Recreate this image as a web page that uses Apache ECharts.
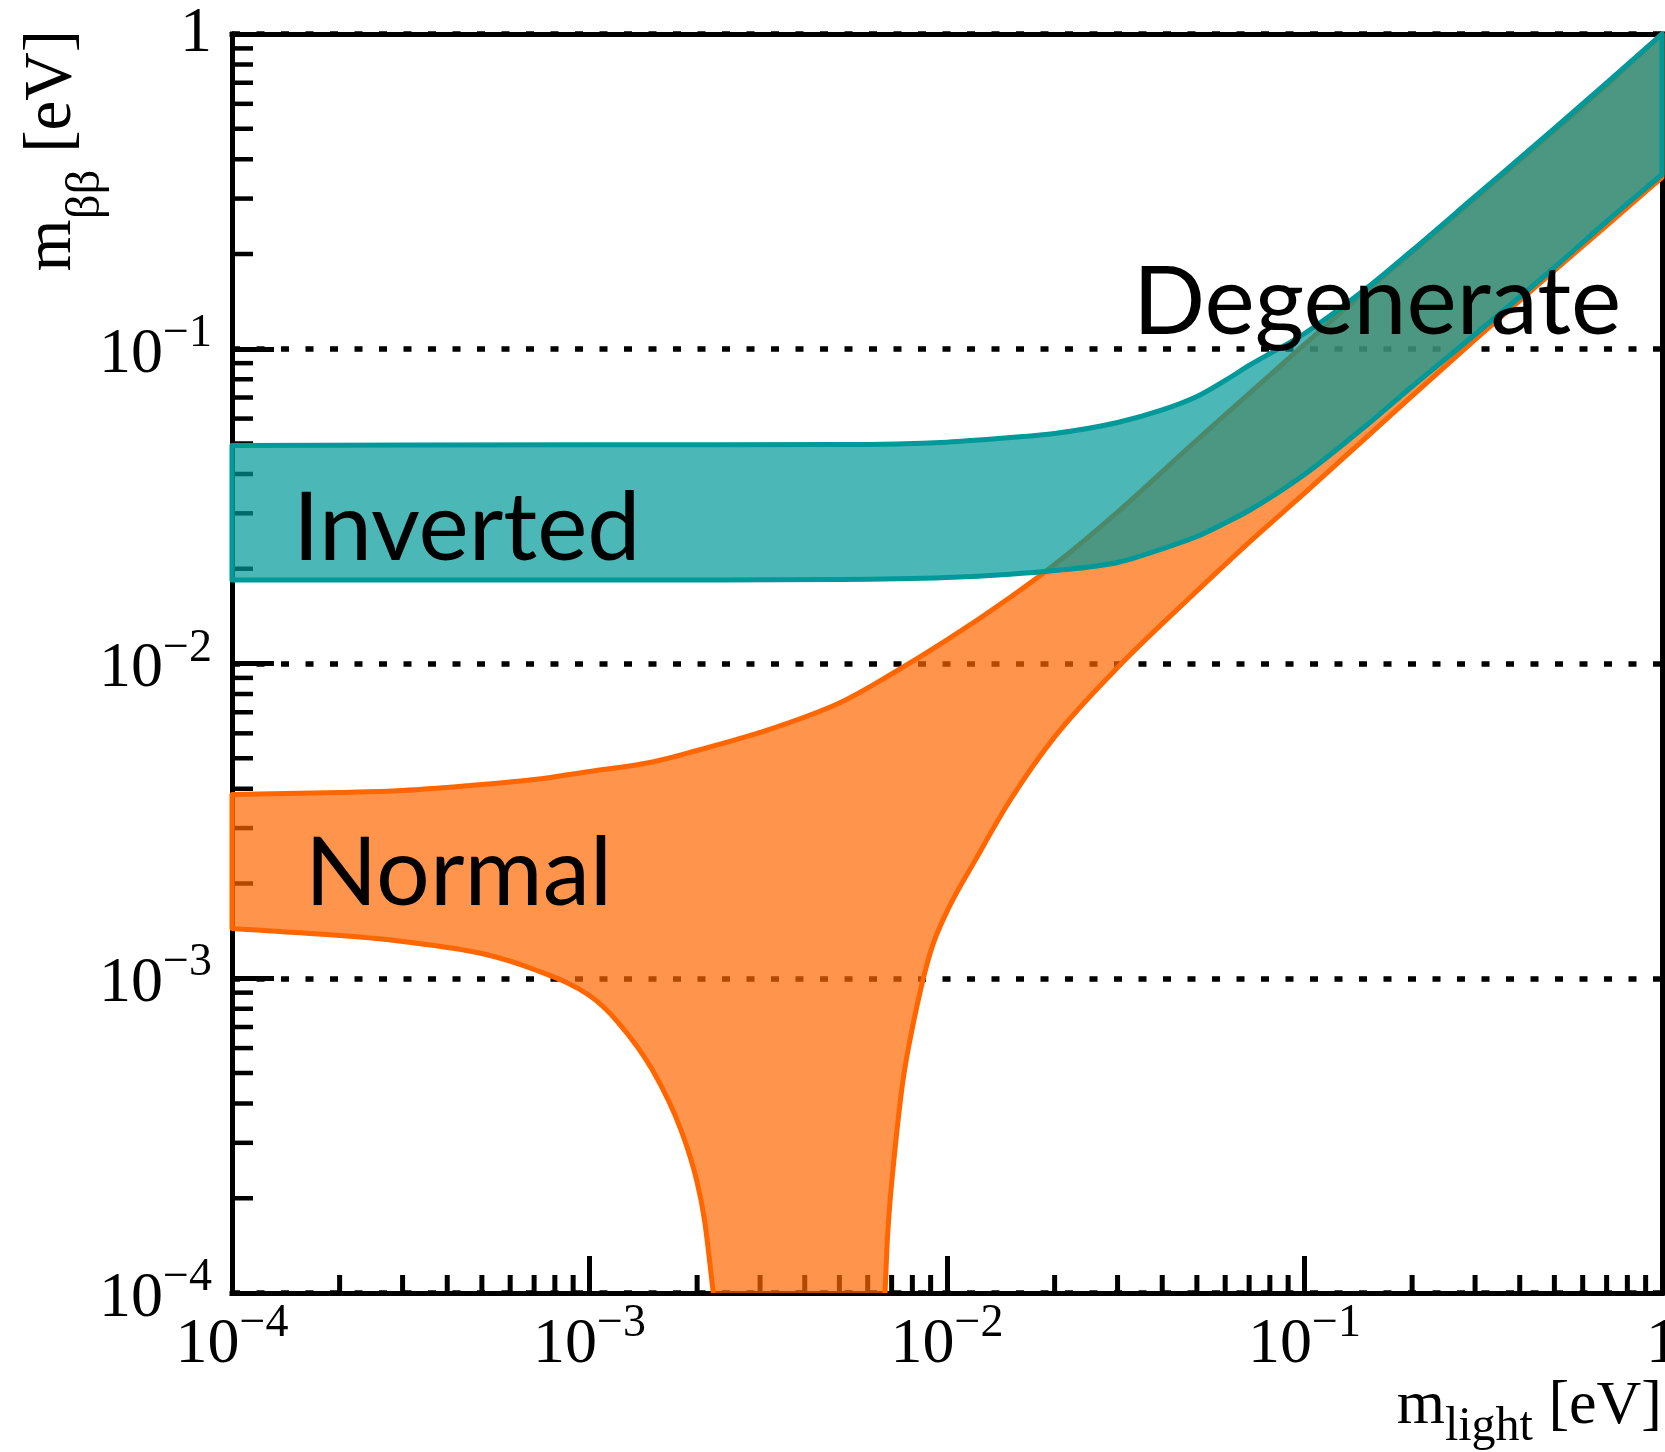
<!DOCTYPE html>
<html>
<head>
<meta charset="utf-8">
<script src="https://cdn.jsdelivr.net/npm/echarts@6/dist/echarts.min.js"></script>
<style>
html,body{margin:0;padding:0;background:#ffffff;}
#chart{width:1665px;height:1452px;}
</style>
</head>
<body>
<div id="chart"></div>
<script>
// ---- Inverted hierarchy band (teal) ----
const ihMass  = [1e-4, 1e-3, 5e-3, 1e-2, 1.5e-2, 2e-2, 3e-2, 4e-2, 5e-2, 6e-2, 7e-2, 0.1, 0.15, 0.2, 0.3, 0.5, 0.7, 1];
const ihUpper = [0.0493, 0.0495, 0.0496, 0.0505, 0.0522, 0.0538, 0.0583, 0.0639, 0.0705, 0.0793, 0.0885, 0.1118, 0.1565, 0.2052, 0.3046, 0.501, 0.699, 1.0];
const ihLower = [0.01842, 0.01842, 0.01849, 0.01876, 0.01921, 0.01974, 0.02094, 0.02314, 0.02532, 0.02795, 0.03063, 0.03986, 0.05745, 0.07589, 0.1110, 0.1812, 0.2537, 0.3577];

// ---- Normal hierarchy band (orange) ----
const nhMass  = [1e-4, 2e-4, 3e-4, 5e-4, 7e-4, 1e-3, 1.5e-3, 2e-3, 3e-3, 5e-3, 7e-3, 1e-2, 1.5e-2, 2e-2, 3e-2, 5e-2, 7e-2, 0.1, 0.15, 0.2, 0.3, 0.5, 0.7, 1];
const nhUpper = [0.003836, 0.003892, 0.00395, 0.004127, 0.004279, 0.004538, 0.004864, 0.005292, 0.006037, 0.00749, 0.009261, 0.01188, 0.01621, 0.02063, 0.03029, 0.0513, 0.07207, 0.1032, 0.1543, 0.2029, 0.3002, 0.4936, 0.6887, 1.0];
// lower boundary, left branch (falls to the bottom of the plot)
const nhLeftMass  = [1e-4, 2e-4, 3e-4, 5e-4, 7e-4, 1e-3, 1.2e-3, 1.5e-3, 1.8e-3, 2e-3, 2.1e-3, 2.22e-3];
const nhLeftLower = [1.439e-3, 1.367e-3, 1.309e-3, 1.198e-3, 1.066e-3, 8.81e-4, 7.26e-4, 5.11e-4, 3.31e-4, 2.25e-4, 1.69e-4, 1e-4];
// lower boundary, right branch (rises from the bottom of the plot)
const nhRightMass  = [6.71e-3, 6.8e-3, 6.9e-3, 7e-3, 7.5e-3, 8e-3, 9e-3, 1e-2, 1.2e-2, 1.5e-2, 2e-2, 3e-2, 5e-2, 7e-2, 0.1, 0.15, 0.2, 0.3, 0.5, 0.7, 1];
const nhRightLower = [1e-4, 1.426e-4, 1.842e-4, 2.228e-4, 4.575e-4, 6.948e-4, 1.216e-3, 1.63e-3, 2.373e-3, 3.671e-3, 5.845e-3, 9.712e-3, 0.01699, 0.02427, 0.03478, 0.0527, 0.07084, 0.1069, 0.177, 0.2463, 0.35];

// ---- axes ----
const axisMin = 1e-4, axisMax = 1;
const decades = [1e-4, 1e-3, 1e-2, 1e-1];
const minorMultipliers = [2, 3, 4, 5, 6, 7, 8, 9];
const bandLabels = ['Inverted', 'Normal', 'Degenerate'];

const minorTicks = [];
decades.forEach(d => minorMultipliers.forEach(k => minorTicks.push(+(k * d).toPrecision(3))));

const SERIF = 'Liberation Serif';
const SANS = 'Lato';

function tickLabel(v, oneStyle) {
  const e = Math.round(Math.log10(v));
  if (e === 0) return '{' + oneStyle + '|1}';
  return '{b|10}{s|\u2212' + (-e) + '}';
}

// smooth (monotone cubic) path segments through pixel points ordered by x
function monoSegments(p) {
  const n = p.length, d = [], m = [];
  for (let i = 0; i < n - 1; i++) d.push((p[i + 1][1] - p[i][1]) / (p[i + 1][0] - p[i][0]));
  m[0] = d[0]; m[n - 1] = d[n - 2];
  for (let i = 1; i < n - 1; i++) m[i] = (d[i - 1] * d[i] <= 0) ? 0 : (d[i - 1] + d[i]) / 2;
  for (let i = 0; i < n - 1; i++) {
    if (d[i] === 0) { m[i] = 0; m[i + 1] = 0; continue; }
    const a = m[i] / d[i], b = m[i + 1] / d[i], s = a * a + b * b;
    if (s > 9) { const t = 3 / Math.sqrt(s); m[i] = t * a * d[i]; m[i + 1] = t * b * d[i]; }
  }
  const segs = [];
  for (let i = 0; i < n - 1; i++) {
    const h = p[i + 1][0] - p[i][0];
    segs.push([p[i], [p[i][0] + h / 3, p[i][1] + m[i] * h / 3], [p[i + 1][0] - h / 3, p[i + 1][1] - m[i + 1] * h / 3], p[i + 1]]);
  }
  return segs;
}
function segPath(segs, reverse) {
  const list = reverse ? segs.slice().reverse().map(g => [g[3], g[2], g[1], g[0]]) : segs;
  let s = '';
  list.forEach(g => { s += ' C' + g[1][0].toFixed(2) + ',' + g[1][1].toFixed(2) + ' ' + g[2][0].toFixed(2) + ',' + g[2][1].toFixed(2) + ' ' + g[3][0].toFixed(2) + ',' + g[3][1].toFixed(2); });
  return {start: list[0][0][0].toFixed(2) + ',' + list[0][0][1].toFixed(2), d: s};
}
function curve(api, xs, ys) {
  return monoSegments(xs.map((x, i) => api.coord([x, ys[i]])));
}

const chart = echarts.init(document.getElementById('chart'), null, {renderer: 'canvas'});

const frameLine = {color: '#000', width: 5, cap: 'square'};

const option = {
  backgroundColor: '#ffffff',
  animation: false,
  grid: {left: 232, right: 3, top: 34, bottom: 159, containLabel: false, outerBoundsMode: 'none'},
  xAxis: [{
    type: 'log', logBase: 10, min: axisMin, max: axisMax, position: 'bottom',
    axisLine: {show: true, lineStyle: frameLine},
    axisTick: {show: true, inside: true, length: 37, lineStyle: {color: '#000', width: 5}},
    minorTick: {show: false},
    splitLine: {show: false},
    axisLabel: {
      show: true, margin: 8, showMinLabel: true, showMaxLabel: true,
      formatter: v => tickLabel(v, 'b'),
      rich: {
        b: {fontFamily: SERIF, fontSize: 64, color: '#000', lineHeight: 76, verticalAlign: 'bottom'},
        s: {fontFamily: SERIF, fontSize: 46, color: '#000', lineHeight: 46, verticalAlign: 'top'}
      }
    },
    name: '{m|m}{sub|light}{m| [eV]}',
    nameLocation: 'end', nameGap: 0, nameMoveOverlap: false,
    nameTextStyle: {
      align: 'right', verticalAlign: 'top', padding: [83, 0, 0, 0],
      rich: {
        m: {fontFamily: SERIF, fontSize: 62, color: '#000', lineHeight: 75, verticalAlign: 'top'},
        sub: {fontFamily: SERIF, fontSize: 48, color: '#000', lineHeight: 30, verticalAlign: 'bottom'}
      }
    }
  }, {
    type: 'log', logBase: 10, min: axisMin, max: axisMax, position: 'top',
    axisLine: {show: true, lineStyle: frameLine},
    axisTick: {show: false}, axisLabel: {show: false}, splitLine: {show: false}
  }],
  yAxis: [{
    type: 'log', logBase: 10, min: axisMin, max: axisMax, position: 'left',
    axisLine: {show: true, lineStyle: frameLine},
    axisTick: {show: true, inside: true, length: 42, lineStyle: {color: '#000', width: 5}},
    minorTick: {show: false},
    splitLine: {show: true, lineStyle: {color: '#000', width: 5.5, type: [8, 16.5]}},
    axisLabel: {
      show: true, margin: 20, showMinLabel: true, showMaxLabel: true,
      formatter: v => tickLabel(v, 'c'),
      rich: {
        b: {fontFamily: SERIF, fontSize: 64, color: '#000', lineHeight: 76, verticalAlign: 'bottom'},
        s: {fontFamily: SERIF, fontSize: 46, color: '#000', lineHeight: 46, verticalAlign: 'top'},
        c: {fontFamily: SERIF, fontSize: 64, color: '#000'}
      }
    },
    name: '{m|m}{sub|\u03b2\u03b2}{m| [eV]}',
    nameLocation: 'end', nameGap: 4, nameRotate: 90, nameMoveOverlap: false,
    nameTextStyle: {
      align: 'right', verticalAlign: 'bottom', padding: [0, 0, 121, 0],
      rich: {
        m: {fontFamily: SERIF, fontSize: 67, color: '#000', lineHeight: 92, verticalAlign: 'top'},
        sub: {fontFamily: SERIF, fontSize: 49, color: '#000', lineHeight: 30, verticalAlign: 'bottom'}
      }
    }
  }, {
    type: 'log', logBase: 10, min: axisMin, max: axisMax, position: 'right',
    axisLine: {show: true, lineStyle: frameLine},
    axisTick: {show: false}, axisLabel: {show: false}, splitLine: {show: false}
  }],
  series: [
    // minor ticks on the x axis
    {
      type: 'custom', coordinateSystem: 'cartesian2d', xAxisIndex: 0, yAxisIndex: 0, z: 1, silent: true,
      data: minorTicks.map(v => [v, axisMin]),
      renderItem: (params, api) => {
        const p = api.coord([api.value(0), api.value(1)]);
        return {type: 'line', shape: {x1: p[0], y1: p[1], x2: p[0], y2: p[1] - 18},
                style: {stroke: '#000', lineWidth: 5}};
      }
    },
    // minor ticks on the y axis
    {
      type: 'custom', coordinateSystem: 'cartesian2d', xAxisIndex: 0, yAxisIndex: 0, z: 1, silent: true,
      data: minorTicks.map(v => [axisMin, v]),
      renderItem: (params, api) => {
        const p = api.coord([api.value(0), api.value(1)]);
        return {type: 'line', shape: {x1: p[0], y1: p[1], x2: p[0] + 21, y2: p[1]},
                style: {stroke: '#000', lineWidth: 4.5}};
      }
    },
    // Normal hierarchy band
    {
      type: 'custom', name: 'Normal', coordinateSystem: 'cartesian2d', xAxisIndex: 0, yAxisIndex: 0, z: 3, silent: true,
      data: [[nhMass[0], nhUpper[0]]],
      renderItem: (params, api) => {
        const left = segPath(curve(api, nhLeftMass, nhLeftLower), true);
        const up = segPath(curve(api, nhMass, nhUpper), false);
        const right = segPath(curve(api, nhRightMass, nhRightLower), true);
        const open = 'M' + left.start + left.d + ' L' + up.start + up.d + ' L' + right.start + right.d;
        return {type: 'group', children: [
          {type: 'path', shape: {pathData: open + ' Z'}, style: {fill: 'rgba(255,102,0,0.7)', stroke: null}},
          {type: 'path', shape: {pathData: open}, style: {fill: null, stroke: '#ff6600', lineWidth: 5, lineJoin: 'round'}}
        ]};
      }
    },
    // Inverted hierarchy band
    {
      type: 'custom', name: 'Inverted', coordinateSystem: 'cartesian2d', xAxisIndex: 0, yAxisIndex: 0, z: 4, silent: true,
      data: [[ihMass[0], ihUpper[0]]],
      renderItem: (params, api) => {
        const up = segPath(curve(api, ihMass, ihUpper), false);
        const low = segPath(curve(api, ihMass, ihLower), true);
        const d = 'M' + up.start + up.d + ' L' + low.start + low.d + ' Z';
        return {type: 'path', shape: {pathData: d},
                style: {fill: 'rgba(0,153,153,0.7)', stroke: '#009999', lineWidth: 5, lineJoin: 'round'}};
      }
    }
  ],
  graphic: [
    {type: 'text', x: 293, y: 482, z: 100, silent: true,
     style: {text: bandLabels[0], font: '95px ' + SANS, fill: '#000', align: 'left', verticalAlign: 'top'}},
    {type: 'text', x: 305, y: 827, z: 100, silent: true,
     style: {text: bandLabels[1], font: '95px ' + SANS, fill: '#000', align: 'left', verticalAlign: 'top'}},
    {type: 'text', x: 1133, y: 256, z: 100, silent: true,
     style: {text: bandLabels[2], font: '95px ' + SANS, fill: '#000', align: 'left', verticalAlign: 'top'}}
  ]
};

chart.setOption(option);
</script>
</body>
</html>
